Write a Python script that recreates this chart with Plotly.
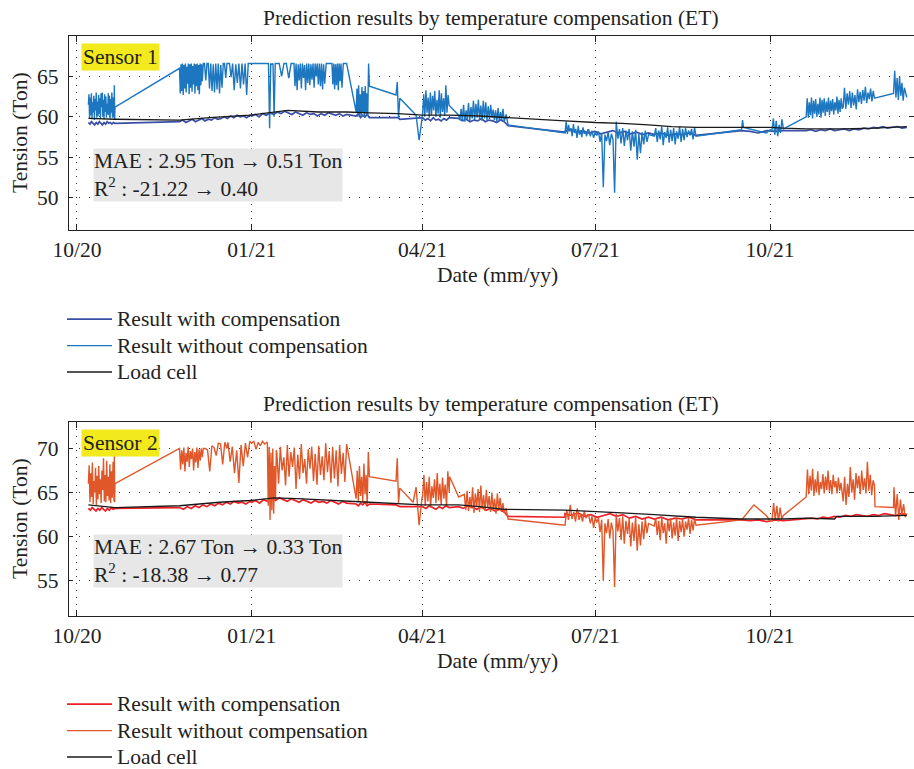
import pandas as pd
import plotly.graph_objects as go

# ---------------- Sensor 1 data ----------------
s1_load_dates = ["2020-10-07", "2020-10-21", "2020-11-24", "2020-12-10", "2020-12-31", "2021-01-10",
                 "2021-01-20", "2021-02-05", "2021-02-20", "2021-03-04", "2021-03-19", "2021-04-01",
                 "2021-04-15", "2021-05-01", "2021-05-14", "2021-06-15", "2021-07-01", "2021-07-15",
                 "2021-07-29", "2021-08-10", "2021-08-23", "2021-09-16", "2021-10-01", "2021-10-08",
                 "2021-10-20", "2021-11-08", "2021-11-25", "2021-12-12"]
s1_load_vals = [59.8, 59.7, 59.6, 59.9, 60.2, 60.5, 60.8, 60.6, 60.6, 60.5, 60.4, 60.2,
                60.2, 60.1, 59.9, 59.5, 59.3, 59.2, 59.0, 58.8, 58.7, 58.7, 58.7, 58.6,
                58.5, 58.5, 58.6, 58.8]

s1_raw_start = ["2020-10-07", "2020-10-20 12:00", "2020-11-24", "2020-12-06 12:00", "2020-12-19 12:00",
                "2021-01-01", "2021-01-09 06:00", "2021-01-14 06:00", "2021-01-23 06:00", "2021-02-09 06:00",
                "2021-02-12 06:00", "2021-02-18 06:00", "2021-02-25", "2021-03-18", "2021-03-27",
                "2021-04-01", "2021-04-20", "2021-05-15", "2021-06-15", "2021-06-27 12:00",
                "2021-08-01", "2021-09-16", "2021-09-29", "2021-10-02", "2021-10-20",
                "2021-11-08 12:00", "2021-12-05"]
s1_raw_end = ["2020-10-20", "2020-10-21", "2020-12-06", "2020-12-19", "2020-12-31",
              "2021-01-09", "2021-01-14", "2021-01-23", "2021-02-09", "2021-02-12",
              "2021-02-18", "2021-02-20", "2021-03-04", "2021-03-20", "2021-03-31 18:00",
              "2021-04-15", "2021-05-14", "2021-05-16", "2021-06-27", "2021-07-29",
              "2021-08-23", "2021-09-17", "2021-10-01", "2021-10-08", "2021-11-08",
              "2021-11-25", "2021-12-12"]
s1_raw_vals = [
    [61.5, 62.8, 59.8, 62.4, 60.2, 62.9, 59.7, 61.8, 60.5, 62.6, 59.6, 62.2, 60.8, 63.0, 59.9, 61.9, 60.1,
     62.7, 60.4, 62.3, 59.8, 62.9, 61.2, 63.0, 60.0, 62.1, 59.7, 62.8, 60.6, 62.5, 59.9, 61.6, 60.3, 62.9,
     60.2, 62.6, 59.8, 62.2, 60.5, 63.0, 59.9, 62.4],
    [59.9, 63.9, 59.6, 61.2],
    [66.0, 62.9, 66.5, 63.2, 66.6, 62.7, 66.4, 63.5, 66.6, 63.0, 66.2, 64.1, 66.6, 62.8, 66.5, 63.6, 66.6,
     63.1, 66.3, 64.0, 66.6, 62.9, 66.5, 63.8, 66.6, 63.3, 66.4, 62.8, 66.6, 63.9, 66.5, 64.4],
    [66.6, 66.6, 64.5, 66.6, 66.6, 63.5, 66.6, 63.2, 66.5, 63.0, 66.6, 63.4, 66.6, 62.9, 66.4, 63.6, 66.6,
     66.6, 64.8, 66.6],
    [66.6, 66.6, 64.9, 66.6, 63.3, 66.5, 64.2, 66.6, 63.5, 66.6, 64.0, 66.6, 62.7, 66.6, 66.6],
    [66.6, 66.6, 66.6],
    [66.6, 66.6, 58.6, 66.6, 66.5, 66.6, 60.0, 66.6, 66.6],
    [66.6, 66.6, 65.0, 66.6, 66.6, 64.8, 66.6, 66.6],
    [66.6, 63.8, 66.6, 63.3, 66.5, 64.5, 66.6, 63.5, 66.6, 64.8, 66.4, 63.3, 66.6, 64.2, 66.6, 63.9, 66.5,
     64.6, 66.6, 63.6, 66.6, 65.0, 66.6, 64.0, 66.6, 63.8, 66.6, 63.4, 66.5, 64.1, 66.6],
    [66.6, 66.6],
    [66.6, 64.0, 66.6, 63.4, 66.5, 63.9, 66.6, 63.3, 66.6, 64.4, 66.6, 63.6, 66.6],
    [66.6, 66.6],
    [60.6, 63.5, 60.0, 63.9, 60.3, 62.8, 60.0, 63.7, 60.5, 63.2, 59.9, 63.8, 60.4, 62.9, 60.1, 66.6, 63.8],
    [62.7, 64.3, 59.8, 62.3],
    [60.6, 60.2, 57.1, 60.3],
    [60.3, 62.8, 60.0, 63.3, 60.5, 62.4, 59.9, 63.0, 60.2, 62.6, 60.8, 63.2, 60.0, 62.1, 60.4, 63.3, 59.9,
     62.9, 60.6, 62.3, 60.1, 63.9, 60.5, 62.7, 61.4],
    [60.2, 59.6, 61.0, 59.5, 61.5, 59.4, 60.8, 59.7, 61.7, 59.5, 61.2, 59.8, 62.0, 59.6, 61.6, 59.9, 62.1,
     59.7, 61.4, 59.5, 62.0, 59.8, 61.8, 59.6, 61.3, 59.7, 61.5, 59.9, 60.9, 59.6, 60.8, 59.4, 61.1, 59.5,
     60.6, 59.6, 61.0, 59.4],
    [60.3, 59.0],
    [58.0, 59.4, 57.9, 59.0, 58.2, 58.6, 57.6, 59.1, 58.0, 58.5, 57.4, 58.9, 57.8, 58.3, 57.5, 58.7, 57.9,
     58.2, 57.6, 58.4],
    [58.4, 57.6, 58.3, 57.4, 58.1, 57.7, 58.2, 56.9, 58.0, 51.3, 57.8, 57.0, 58.1, 56.5, 57.9, 57.2, 50.6,
     59.4, 57.3, 58.5, 56.7, 58.6, 56.4, 58.3, 57.1, 58.5, 55.8, 58.2, 56.3, 58.4, 54.7, 57.9, 55.5, 58.1,
     56.6, 58.3, 56.9, 57.8],
    [57.6, 58.6, 56.9, 58.3, 57.2, 58.8, 56.5, 58.1, 57.4, 58.7, 56.8, 58.4, 57.0, 58.6, 56.6, 58.2, 57.3,
     58.8, 56.9, 58.5, 57.1, 58.6, 57.5, 58.3, 57.7, 58.5, 57.2, 58.7, 57.6],
    [58.4, 59.6, 58.7],
    [58.0, 58.4],
    [58.3, 59.8, 57.8, 59.5, 57.6, 59.0, 58.0, 59.7, 58.5],
    [60.0, 62.3, 59.9, 61.8, 60.2, 62.4, 59.8, 62.0, 60.4, 62.2, 60.0, 61.6, 60.3, 62.4, 59.9, 62.1, 60.5,
     62.3, 60.1, 61.9, 60.6, 62.4, 60.2, 62.0, 60.7, 62.2, 60.3, 61.8, 60.8, 62.5, 60.4, 62.1, 60.6, 62.3,
     61.0],
    [61.2, 63.6, 61.0, 62.9, 61.5, 63.2, 61.1, 63.0, 61.4, 62.7, 60.9, 63.4, 61.8, 63.1, 61.6, 63.3, 62.0,
     63.7, 61.7, 63.0, 62.2, 63.5, 61.9, 63.2, 62.3],
    [62.9, 65.7, 62.4, 64.8, 62.1, 65.0, 62.6, 64.2, 62.0, 63.6, 62.8, 62.4],
]

s1_comp_start = ["2020-10-07", "2020-11-24", "2021-01-01", "2021-02-25", "2021-03-19", "2021-04-01",
                 "2021-04-20", "2021-05-16", "2021-06-15", "2021-08-01", "2021-09-16", "2021-10-20"]
s1_comp_end = ["2020-10-21", "2020-12-31", "2021-02-20", "2021-03-04", "2021-03-20", "2021-04-15",
               "2021-05-14", "2021-06-15", "2021-07-29", "2021-08-23", "2021-10-08", "2021-12-12"]
s1_comp_vals = [
    [59.3, 59.1, 59.4, 59.2, 59.0, 59.3, 59.1, 59.4, 59.2, 59.0, 59.3, 59.1, 59.4, 59.2, 59.3, 59.1, 59.3, 59.2],
    [59.4, 59.6, 59.3, 59.5, 59.7, 59.4, 59.6, 59.8, 59.5, 59.7, 59.6, 59.9, 59.7, 59.8, 60.0, 59.8, 60.1,
     59.9, 60.2, 60.0, 60.1, 59.9, 60.2],
    [60.1, 60.3, 60.0, 60.4, 60.2, 60.5, 60.3, 60.6, 60.4, 60.7, 60.5, 60.3, 60.6, 60.4, 60.2, 60.5, 60.3,
     60.4, 60.1, 60.4, 60.2, 60.5, 60.3, 60.2, 60.4, 60.1, 60.3],
    [60.1, 60.4, 59.9, 60.2, 60.0, 60.3, 59.9],
    [59.9, 59.7],
    [59.9, 59.6, 59.8, 59.5, 59.9, 59.6, 59.7, 59.5, 59.8, 59.6, 59.9],
    [59.8, 59.5, 59.7, 59.4, 59.6, 59.5, 59.8, 59.4, 59.6, 59.5, 59.3, 59.6, 59.4],
    [58.9, 58.1],
    [58.2, 58.4, 58.1, 58.3, 58.0, 58.2, 57.9, 58.1, 58.3, 58.0, 58.2, 57.9, 58.1, 57.8, 58.0],
    [57.8, 58.0, 57.7, 57.9, 57.8, 58.0, 57.7],
    [58.3, 58.2, 58.0, 58.3, 58.2, 58.3],
    [58.3, 58.4, 58.2, 58.4, 58.3, 58.5, 58.3, 58.4, 58.5, 58.3, 58.5, 58.4, 58.6, 58.5, 58.7, 58.6, 58.8,
     58.6, 58.7, 58.8, 58.6, 58.7],
]

# ---------------- Sensor 2 data ----------------
s2_load_dates = ["2020-10-07", "2020-10-21", "2020-11-24", "2020-12-15", "2020-12-31", "2021-01-13",
                 "2021-01-25", "2021-02-18", "2021-03-04", "2021-04-01", "2021-04-20", "2021-05-01",
                 "2021-05-14", "2021-06-15", "2021-07-01", "2021-07-15", "2021-08-01", "2021-08-23",
                 "2021-09-16", "2021-10-01", "2021-10-08", "2021-10-20", "2021-11-04", "2021-11-05",
                 "2021-11-25", "2021-12-12"]
s2_load_vals = [63.6, 63.3, 63.5, 63.9, 64.1, 64.4, 64.3, 64.0, 63.9, 63.6, 63.6, 63.4,
                63.1, 63.0, 62.8, 62.7, 62.5, 62.2, 62.0, 62.0, 62.0, 62.1, 62.0, 62.3,
                62.3, 62.4]

s2_raw_start = ["2020-10-07", "2020-10-20 12:00", "2020-11-24", "2020-12-06 12:00", "2020-12-19 12:00",
                "2021-01-01", "2021-01-09 06:00", "2021-01-14 06:00", "2021-02-25", "2021-03-18",
                "2021-03-27", "2021-04-01", "2021-04-15 06:00", "2021-04-23", "2021-05-15",
                "2021-06-15", "2021-06-27 12:00", "2021-08-01", "2021-09-16", "2021-09-29",
                "2021-10-02", "2021-10-20", "2021-11-08 12:00", "2021-11-25 06:00", "2021-12-05 06:00"]
s2_raw_end = ["2020-10-20", "2020-10-21", "2020-12-06", "2020-12-19", "2020-12-31",
              "2021-01-09", "2021-01-14", "2021-02-20", "2021-03-04", "2021-03-20",
              "2021-03-31 18:00", "2021-04-15", "2021-04-20", "2021-05-14", "2021-05-16",
              "2021-06-27", "2021-07-29", "2021-08-23", "2021-09-29", "2021-10-01",
              "2021-10-08", "2021-11-08", "2021-11-25", "2021-12-05", "2021-12-12"]
s2_raw_vals = [
    [66.0, 68.1, 63.9, 67.2, 64.5, 68.4, 63.7, 66.3, 65.0, 67.8, 63.6, 66.9, 64.2, 68.0, 64.8, 66.5, 63.8,
     67.5, 65.3, 68.9, 64.0, 67.0, 63.9, 68.6, 64.6, 66.8, 64.1, 68.2, 63.8, 67.4, 64.4, 68.5],
    [64.0, 69.4, 63.9, 66.0],
    [70.0, 67.6, 69.8, 68.2, 70.1, 67.4, 69.5, 68.5, 70.2, 67.9, 69.7, 68.8, 70.0, 67.5, 69.6, 68.4, 70.1,
     67.8, 69.9, 68.6, 70.0, 69.0],
    [70.0, 70.0, 69.8, 67.4, 70.3, 70.1, 69.2, 70.6, 70.5, 68.2, 70.7, 70.0],
    [70.7, 68.5, 70.2, 67.2, 69.8, 66.1, 70.4, 68.0, 70.6, 69.0, 70.8],
    [70.6, 70.8, 69.9, 70.7, 70.3, 70.8, 70.5, 70.7],
    [70.6, 63.5, 70.2, 61.9, 69.5, 63.0, 70.0, 62.6, 68.0, 64.2, 69.8],
    [69.5, 66.0, 70.2, 67.5, 69.0, 65.8, 70.4, 66.8, 69.6, 67.9, 70.1, 65.4, 69.3, 66.5, 70.5, 67.2, 68.8,
     66.0, 69.9, 67.7, 70.2, 66.3, 69.4, 65.9, 70.3, 67.0, 69.1, 66.4, 70.6, 67.3, 69.7, 66.1, 70.2, 66.6,
     69.8, 65.7, 70.4, 67.1, 69.5, 66.2, 70.5],
    [64.3, 67.5, 64.0, 68.0, 64.6, 66.8, 63.9, 68.3, 64.8, 67.0, 63.6, 69.6, 66.8],
    [66.3, 68.9, 63.8, 65.5],
    [63.9, 65.6, 61.3, 64.5],
    [64.5, 67.0, 63.5, 66.2, 64.0, 66.8, 63.3, 65.7, 64.4, 66.5, 63.8, 67.2, 64.1, 66.0, 63.6, 66.7, 64.3,
     65.9, 63.5, 67.4, 65.0],
    [66.8, 64.5],
    [64.8, 63.0, 65.2, 62.9, 64.5, 63.2, 65.6, 62.7, 64.9, 63.4, 65.4, 62.8, 65.8, 63.1, 64.7, 62.9, 65.3,
     63.3, 64.6, 62.8, 65.0, 63.0, 64.3, 62.6, 64.9, 63.1, 64.4, 62.8, 63.8, 62.7],
    [63.2, 62.0],
    [61.3, 63.0, 61.9, 63.6, 62.0, 62.8, 61.7, 63.2, 61.9, 62.6, 61.7, 62.9, 62.1, 62.5],
    [62.4, 61.5, 62.3, 61.0, 62.2, 61.6, 62.1, 60.5, 61.9, 55.0, 61.5, 60.4, 62.0, 59.8, 61.6, 60.7, 54.3,
     62.6, 60.6, 62.1, 59.6, 62.3, 59.2, 61.8, 60.3, 62.0, 58.9, 61.6, 59.5, 62.2, 58.4, 61.4, 59.0, 61.7,
     59.7, 62.0, 60.4, 61.5],
    [61.2, 62.1, 60.2, 61.8, 59.6, 62.2, 60.4, 61.5, 59.2, 61.9, 60.6, 62.1, 59.8, 61.6, 60.1, 62.2, 59.5,
     61.8, 60.5, 62.0, 60.0, 61.7, 60.8, 62.1, 60.3, 61.9, 60.7, 62.0, 61.3],
    [61.9, 63.6, 62.4],
    [62.4, 61.8],
    [61.8, 63.8, 61.9, 63.5, 61.7, 63.3, 62.0, 62.4],
    [64.5, 67.6, 64.8, 66.9, 65.2, 67.7, 64.6, 66.5, 65.0, 67.4, 64.7, 66.2, 65.4, 67.1, 64.9, 66.8, 65.3,
     67.5, 65.1, 66.4, 64.8, 67.0, 65.6, 66.3, 64.9, 66.7, 65.2, 66.1, 64.6],
    [64.0, 66.8, 63.6, 66.0, 64.5, 67.9, 65.0, 66.5, 64.2, 67.2, 65.5, 66.9, 64.8, 67.5, 65.3, 66.6, 64.9,
     68.5, 65.2, 67.0, 64.7, 66.4, 65.8],
    [63.4, 63.3],
    [65.6, 62.3, 64.8, 61.9, 64.2, 62.5, 63.7, 62.2, 62.6],
]

s2_comp_start = ["2020-10-07", "2020-11-24", "2021-01-01", "2021-02-25", "2021-03-18", "2021-04-01",
                 "2021-04-20", "2021-05-16", "2021-06-15", "2021-08-01", "2021-09-16", "2021-10-20"]
s2_comp_end = ["2020-10-21", "2020-12-31", "2021-02-20", "2021-03-04", "2021-03-20", "2021-04-15",
               "2021-05-14", "2021-06-15", "2021-07-29", "2021-08-23", "2021-10-08", "2021-12-12"]
s2_comp_vals = [
    [63.2, 63.0, 63.3, 63.1, 62.9, 63.2, 63.0, 63.3, 63.1, 62.9, 63.2, 63.0, 63.3, 63.1, 63.2],
    [63.3, 63.1, 63.4, 63.2, 63.5, 63.3, 63.6, 63.4, 63.7, 63.5, 63.8, 63.6, 63.9, 63.7, 64.0, 63.8, 63.9,
     63.7, 64.0],
    [63.9, 64.1, 63.8, 64.2, 64.0, 64.3, 64.1, 64.4, 64.2, 64.0, 64.3, 64.1, 63.9, 64.2, 64.0, 63.8, 64.1,
     63.9, 64.0, 63.8, 64.1, 63.9, 63.7, 64.0, 63.8],
    [63.7, 63.5, 63.8, 63.6, 63.9, 63.5, 63.7],
    [63.6, 63.4],
    [63.4, 63.2, 63.5, 63.3, 63.1, 63.4, 63.2, 63.5, 63.3],
    [63.4, 63.2, 63.5, 63.3, 63.1, 63.4, 63.0, 63.2, 62.9, 63.1, 62.8],
    [62.3, 62.2],
    [62.6, 62.4, 62.7, 62.3, 62.5, 62.2, 62.4, 62.6, 62.3, 62.5, 62.1, 62.3, 62.0, 62.2],
    [62.0, 62.2, 61.9, 62.1, 62.0, 62.2, 61.9],
    [61.9, 61.8, 61.9, 61.7, 61.9, 61.8],
    [62.0, 62.1, 62.0, 62.2, 62.1, 62.3, 62.2, 62.4, 62.3, 62.5, 62.4, 62.3, 62.5, 62.4, 62.6, 62.5, 62.4,
     62.6, 62.5],
]

tick_vals = ["2020-10-01", "2021-01-01", "2021-04-01", "2021-07-01", "2021-10-01"]
tick_text = ["10/20", "01/21", "04/21", "07/21", "10/21"]
x_range = ["2020-09-26 19:00", "2021-12-15 19:00"]
legend_names = ["Result with compensation", "Result without compensation", "Load cell"]

FONT = "Liberation Serif, Times New Roman, serif"
FS = 21.5


def build(starts, ends, vals):
    xs, ys = [], []
    for s, e, v in zip(starts, ends, vals):
        xs.extend(pd.date_range(s, e, periods=len(v)))
        ys.extend(v)
    return xs, ys


def lname(t):
    return "<span style='font-size:21.5px'>" + t + "</span>"


fig = go.Figure()

panels = [
    dict(comp=(s1_comp_start, s1_comp_end, s1_comp_vals), raw=(s1_raw_start, s1_raw_end, s1_raw_vals),
         load=(s1_load_dates, s1_load_vals), c_comp="#3a4ea6", c_raw="#1c76c0",
         xa="x", ya="y", legend="legend"),
    dict(comp=(s2_comp_start, s2_comp_end, s2_comp_vals), raw=(s2_raw_start, s2_raw_end, s2_raw_vals),
         load=(s2_load_dates, s2_load_vals), c_comp="#ee1f26", c_raw="#e0582a",
         xa="x2", ya="y2", legend="legend2"),
]

for p in panels:
    cx, cy = build(*p["comp"])
    rx, ry = build(*p["raw"])
    fig.add_trace(go.Scatter(x=cx, y=cy, mode="lines", name=lname(legend_names[0]),
                             line=dict(color=p["c_comp"], width=1.7), xaxis=p["xa"], yaxis=p["ya"],
                             legend=p["legend"]))
    fig.add_trace(go.Scatter(x=rx, y=ry, mode="lines", name=lname(legend_names[1]),
                             line=dict(color=p["c_raw"], width=1.4), xaxis=p["xa"], yaxis=p["ya"],
                             legend=p["legend"]))
    fig.add_trace(go.Scatter(x=pd.to_datetime(p["load"][0]), y=p["load"][1], mode="lines",
                             name=lname(legend_names[2]),
                             line=dict(color="#1a1a1a", width=1.3), xaxis=p["xa"], yaxis=p["ya"],
                             legend=p["legend"]))

W, H = 914, 769


def px_x(v):
    return v / W


def px_y(v):
    return 1 - v / H


xaxis_common = dict(type="date", range=x_range, tickvals=tick_vals, ticktext=tick_text,
                    showline=True, linecolor="#222", linewidth=1.3, mirror="ticks",
                    ticks="inside", ticklen=6, tickcolor="#222", automargin=False,
                    ticklabelstandoff=0,
                    showgrid=True, gridcolor="#333", gridwidth=1, griddash="1px,6px",
                    zeroline=False, tickfont=dict(family=FONT, size=FS, color="#222"))
yaxis_common = dict(showline=True, linecolor="#222", linewidth=1.3, mirror="ticks",
                    ticks="inside", ticklen=4, tickcolor="#222", automargin=False,
                    ticklabelstandoff=5,
                    showgrid=True, gridcolor="#333", gridwidth=1, griddash="1px,9px",
                    zeroline=False, tickfont=dict(family=FONT, size=FS, color="#222"))

legend_common = dict(xanchor="left", yanchor="top", bgcolor="rgba(0,0,0,0)",
                     font=dict(family=FONT, size=18, color="#222"), itemwidth=45, tracegroupgap=0)

fig.update_layout(
    width=W, height=H, margin=dict(l=0, r=0, t=0, b=0, pad=0, autoexpand=False),
    paper_bgcolor="white", plot_bgcolor="white",
    font=dict(family=FONT, size=FS, color="#222"),
    xaxis=dict(xaxis_common, domain=[px_x(69), 1.0], anchor="y"),
    yaxis=dict(yaxis_common, domain=[px_y(230), px_y(36)], range=[46, 70], tickvals=[50, 55, 60, 65],
               anchor="x"),
    xaxis2=dict(xaxis_common, domain=[px_x(69), 1.0], anchor="y2"),
    yaxis2=dict(yaxis_common, domain=[px_y(616), px_y(422)], range=[51, 73], tickvals=[55, 60, 65, 70],
                anchor="x2"),
    legend=dict(legend_common, x=px_x(62), y=px_y(301)),
    legend2=dict(legend_common, x=px_x(62), y=px_y(686)),
    showlegend=True,
)

title = "Prediction results by temperature compensation (ET)"
stats = ["MAE : 2.95 Ton → 0.51 Ton<br>R<sup>2</sup> : -21.22 → 0.40",
         "MAE : 2.67 Ton → 0.33 Ton<br>R<sup>2</sup> : -18.38 → 0.77"]
sensors = ["Sensor 1", "Sensor 2"]
tops = [36, 422]
bottoms = [230, 616]

for i in range(2):
    top, bot = tops[i], bottoms[i]
    fig.add_annotation(text=title, xref="paper", yref="paper", x=px_x(491), y=px_y(top - 18),
                       xanchor="center", yanchor="middle", showarrow=False,
                       font=dict(family=FONT, size=FS, color="#222"))
    fig.add_annotation(text="Date (mm/yy)", xref="paper", yref="paper", x=px_x(497), y=px_y(bot + 45),
                       xanchor="center", yanchor="middle", showarrow=False,
                       font=dict(family=FONT, size=FS, color="#222"))
    fig.add_annotation(text="Tension (Ton)", xref="paper", yref="paper", x=px_x(20), y=px_y((top + bot) / 2),
                       xanchor="center", yanchor="middle", showarrow=False, textangle=-90,
                       font=dict(family=FONT, size=FS, color="#222"))
    fig.add_annotation(text=sensors[i], xref="paper", yref="paper", x=px_x(81), y=px_y(top + 7),
                       xanchor="left", yanchor="top", showarrow=False, bgcolor="#f2ea1c",
                       borderpad=1, font=dict(family=FONT, size=FS, color="#222"))
    fig.add_annotation(text=stats[i], xref="paper", yref="paper", x=px_x(93), y=px_y(top + 112),
                       xanchor="left", yanchor="top", showarrow=False, bgcolor="#e6e7e6", align="left",
                       borderpad=0, font=dict(family=FONT, size=FS, color="#222"))

fig.write_html("out.html")
